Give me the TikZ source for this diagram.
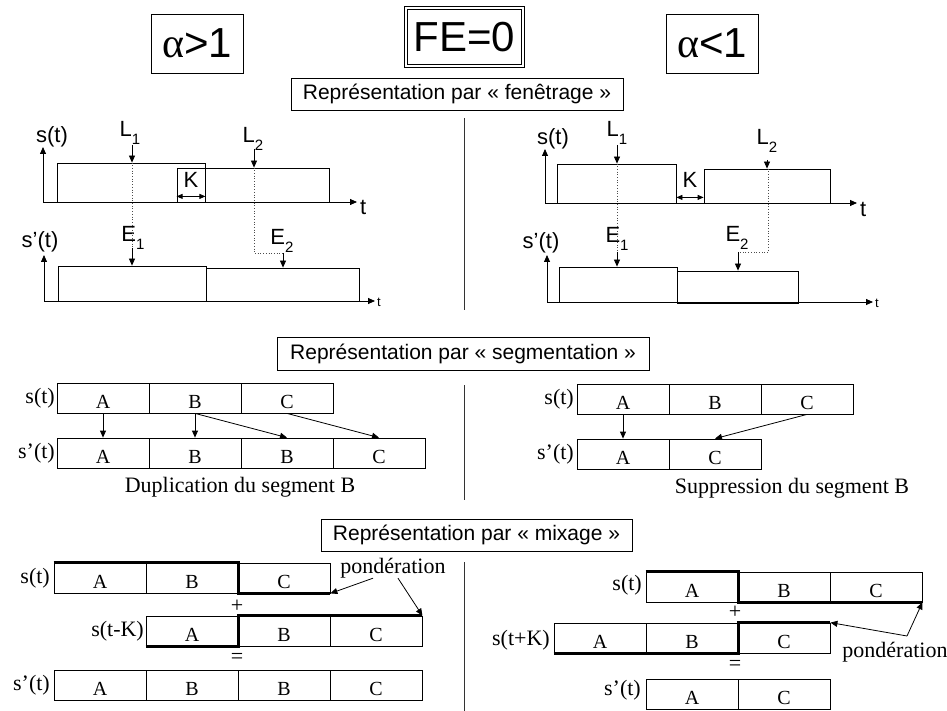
\documentclass[tikz,border=0pt]{standalone}
\usepackage{fontspec}
\setmainfont{Liberation Serif}
\newfontfamily\arialf{Liberation Sans}
\usetikzlibrary{arrows.meta}
\newcommand\sbs[1]{\raisebox{-0.35em}{\fontsize{15}{15}\selectfont #1}}
\begin{document}
\begin{tikzpicture}[x=1pt,y=-1pt,
 ln/.style={line width=0.8pt},
 arr/.style={ln,-{Triangle[length=7pt,width=6pt]}},
 darr/.style={ln,{Triangle[length=6pt,width=5pt]}-{Triangle[length=6pt,width=5pt]}},
 dotl/.style={line width=0.7pt,dotted,black!70},
 thk/.style={line width=2.8pt},
 hdr/.style={draw,ln,font=\arialf\fontsize{42}{42}\selectfont,inner sep=0pt,minimum height=59pt},
 ttl/.style={draw,ln,font=\arialf\fontsize{21}{21}\selectfont,inner sep=0pt,minimum height=32pt},
 sl/.style={font=\arialf\fontsize{22}{22}\selectfont,inner sep=0pt},
 stl/.style={font=\arialf\fontsize{13}{13}\selectfont,inner sep=0pt,anchor=west},
 win/.style={draw,ln,inner sep=0pt},
 seg/.style={draw,ln,inner sep=0pt,minimum width=92pt,minimum height=30pt,text height=20pt,text depth=0pt,font=\fontsize{20}{20}\selectfont},
 tms/.style={font=\fontsize{22}{22}\selectfont,inner sep=0pt},
 sep/.style={line width=0.8pt,black!80}
]
\useasboundingbox (0,0) rectangle (947,711);

% ---------- header ----------
\node[hdr,minimum width=92pt] (agt) at (197,43.5) {{\rmfamily α}>1};
\node[hdr,double,double distance=2pt,minimum width=117pt,minimum height=58pt] (fe) at (464.5,37) {FE=0};
\node[hdr,minimum width=92pt] (alt) at (712,43.5) {{\rmfamily α}<1};
\node[ttl,minimum width=332pt] (tf) at (457,94) {Représentation par « fenêtrage »};

% ---------- fenetrage left ----------
\node[win,minimum width=148pt,minimum height=39pt] (r1) at (131,182.5) {};
\node[win,minimum width=152pt,minimum height=34pt] (r2) at (253,185) {};
\node[win,minimum width=148pt,minimum height=35pt] (e1) at (132,283.5) {};
\node[win,minimum width=153pt,minimum height=33pt] (e2) at (282.5,284.5) {};
\coordinate (o1) at (43,202); \coordinate (y1) at (43,147); \coordinate (x1) at (357,202);
\draw[arr] (o1) -- (y1); \draw[arr] (o1) -- (x1);
\coordinate (o2) at (44,301); \coordinate (y2) at (44,255); \coordinate (x2) at (375,301);
\draw[arr] (o2) -- (y2); \draw[arr] (o2) -- (x2);
\node[sl] (st1) at (52,137) {s(t)};
\node[sl,anchor=west] (t1) at (360,207) {t};
\node[sl] (sp1) at (40,242) {s’(t)};
\node[stl] (t2) at (377,302) {t};
\node[sl] (L1) at (130,133) {L\sbs1};
\node[sl] (L2) at (253,139) {L\sbs2};
\node[sl] (E1) at (133,238) {E\sbs1};
\node[sl] (E2) at (282,241) {E\sbs2};
\node[sl] (K1) at (191,180) {K};
\draw[darr] ([yshift=6pt]r2.south west) -- ([yshift=6pt]r1.south east);
\coordinate (l1) at (132,145); \coordinate (l2) at (254,149);
\coordinate (ea1) at (132,248); \coordinate (k2) at (254,253); \coordinate (ea2) at (283,253);
\draw[dotl] (l1 |- r1.north) -- (ea1);
\draw[dotl] (l2 |- r2.north) -- (k2) -- (ea2);
\draw[arr] (l1) -- (l1 |- r1.north);
\draw[arr] (l2) -- (l2 |- r2.north);
\draw[arr] (ea1) -- (ea1 |- e1.north);
\draw[arr] (ea2) -- (ea2 |- e2.north);

% ---------- fenetrage right ----------
\node[win,minimum width=119pt,minimum height=39pt] (rr1) at (616.5,183.5) {};
\node[win,minimum width=126pt,minimum height=34pt] (rr2) at (767,186) {};
\node[win,minimum width=118pt,minimum height=35pt] (er1) at (618,284.5) {};
\node[win,minimum width=121pt,minimum height=32pt] (er2) at (737.5,287) {};
\coordinate (o3) at (545,203); \coordinate (y3) at (545,149); \coordinate (x3) at (857,203);
\draw[arr] (o3) -- (y3); \draw[arr] (o3) -- (x3);
\coordinate (o4) at (547,302); \coordinate (y4) at (547,255); \coordinate (x4) at (873,302);
\draw[arr] (o4) -- (y4); \draw[arr] (o4) -- (x4);
\node[sl] (st3) at (553,139) {s(t)};
\node[sl,anchor=west] (t3) at (860,209) {t};
\node[sl] (sp3) at (541,243) {s’(t)};
\node[stl] (t4) at (875,303) {t};
\node[sl] (L3) at (617,133) {L\sbs1};
\node[sl] (L4) at (767,141) {L\sbs2};
\node[sl] (E3) at (617,239) {E\sbs1};
\node[sl] (E4) at (737,238) {E\sbs2};
\node[sl] (K2) at (690,180) {K};
\draw[darr] ([yshift=6pt]rr1.south east) -- ([yshift=6pt]rr2.south west);
\coordinate (l3) at (617,145); \coordinate (l4) at (767,160);
\coordinate (ea3) at (617,252); \coordinate (k4) at (768,252); \coordinate (ea4) at (738,252);
\draw[dotl] (l3 |- rr1.north) -- (ea3);
\draw[dotl] (k4 |- rr2.north) -- (k4) -- (ea4);
\draw[arr] (l3) -- (l3 |- rr1.north);
\draw[arr] (l4) -- (l4 |- rr2.north);
\draw[arr] (ea3) -- (ea3 |- er1.north);
\draw[arr] (ea4) -- (ea4 |- er2.north);

% separators
\draw[sep] (464,118) -- (464,310);
\draw[sep] (464,385) -- (464,500);
\draw[sep] (464,562) -- (464,711);

% ---------- segmentation ----------
\node[ttl,minimum width=372pt,minimum height=33pt] (ts) at (463,353.5) {Représentation par « segmentation »};
\node[seg] (sA) at (103,398) {A};
\node[seg] (sB) at (195,398) {B};
\node[seg] (sC) at (287,398) {C};
\node[seg] (dA) at (103,453) {A};
\node[seg] (dB) at (195,453) {B};
\node[seg] (dB2) at (287,453) {B};
\node[seg] (dC) at (379,453) {C};
\node[tms,anchor=east] (lsA) at (55,398) {s(t)};
\node[tms,anchor=east] (lsB) at (55,453) {s’(t)};
\draw[arr] (sA.south) -- (dA.north);
\draw[arr] (sB.south) -- (dB.north);
\draw[arr] (sB.south) -- (dB2.north);
\draw[arr] (sC.south) -- (dC.north);
\node[tms] (dup) at (240,487) {Duplication du segment B};

\node[seg] (tA) at (623,399) {A};
\node[seg] (tB) at (715,399) {B};
\node[seg] (tC) at (807,399) {C};
\node[seg] (uA) at (623,454) {A};
\node[seg] (uC) at (715,454) {C};
\node[tms,anchor=east] (ltA) at (574,399) {s(t)};
\node[tms,anchor=east] (ltB) at (574,454) {s’(t)};
\draw[arr] (tA.south) -- (uA.north);
\draw[arr] (tC.south) -- (uC.north);
\node[tms] (sup) at (792,488) {Suppression du segment B};

% ---------- mixage ----------
\node[ttl,minimum width=311pt] (tm) at (476.5,535) {Représentation par « mixage »};
\node[seg] (mA) at (100,578) {A};
\node[seg] (mB) at (192,578) {B};
\node[seg] (mC) at (284,578) {C};
\node[seg] (nA) at (192,631) {A};
\node[seg] (nB) at (284,631) {B};
\node[seg] (nC) at (376,631) {C};
\node[seg] (pA) at (100,685) {A};
\node[seg] (pB) at (192,685) {B};
\node[seg] (pB2) at (284,685) {B};
\node[seg] (pC) at (376,685) {C};
\draw[thk] (mA.north west) -- (mB.north east) -- (mB.south east) -- (mC.south east);
\draw[thk] (nA.south west) -- (nA.south east) -- (nA.north east) -- (nC.north east);
\node[tms,anchor=east] (lm1) at (50,578) {s(t)};
\node[tms,anchor=east] (lm2) at (144,631) {s(t-K)};
\node[tms,anchor=east] (lm3) at (50,685) {s’(t)};
\node[tms] (plus1) at (237,606) {+};
\node[tms] (eq1) at (237,658) {=};
\node[tms] (pl) at (393,568) {pondération};
\draw[arr] ([xshift=-20pt]pl.south) -- (mC.south east);
\draw[arr] ([xshift=5pt]pl.south) -- (nC.north east);

\node[seg] (qA) at (692,587) {A};
\node[seg] (qB) at (784,587) {B};
\node[seg] (qC) at (876,587) {C};
\node[seg] (wA) at (600,638) {A};
\node[seg] (wB) at (692,638) {B};
\node[seg] (wC) at (784,638) {C};
\node[seg] (vA) at (692,694) {A};
\node[seg] (vC) at (784,694) {C};
\draw[thk] (qA.north west) -- (qA.north east) -- (qA.south east) -- (qC.south east);
\draw[thk] (wA.south west) -- (wB.south east) -- (wB.north east) -- (wC.north east);
\node[tms,anchor=east] (lq1) at (642,585) {s(t)};
\node[tms,anchor=east] (lq2) at (550,640) {s(t+K)};
\node[tms,anchor=east] (lq3) at (641,690) {s’(t)};
\node[tms] (plus2) at (735,612) {+};
\node[tms] (eq2) at (735,665) {=};
\node[tms] (pr) at (895,652) {pondération};
\coordinate (pj) at (907,636);
\draw[arr] (pj) -- (qC.south east);
\draw[arr] (pj) -- (wC.north east);
\end{tikzpicture}
\end{document}
